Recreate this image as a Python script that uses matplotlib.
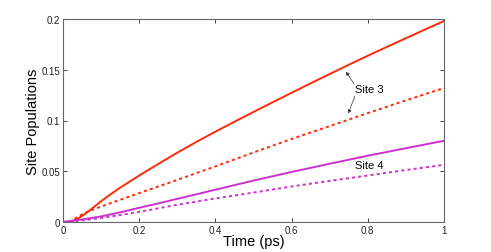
import matplotlib
matplotlib.use("Agg")
import matplotlib.pyplot as plt

plt.rcParams['font.family'] = ['Liberation Sans', 'DejaVu Sans']

# Site 3 (solid)
t_s3 = [0, 0.02, 0.04, 0.06, 0.08, 0.1, 0.125, 0.15, 0.2, 0.25, 0.3, 0.35, 0.4,
        0.45, 0.5, 0.55, 0.6, 0.65, 0.7, 0.75, 0.8, 0.85, 0.9, 0.95, 1.0]
site3_solid = [0, 0.0005, 0.0035, 0.0085, 0.0145, 0.0205, 0.0273, 0.0338, 0.0458,
               0.0572, 0.0683, 0.0789, 0.089, 0.0988, 0.1084, 0.1179, 0.1273,
               0.1366, 0.1458, 0.1549, 0.1638, 0.1725, 0.1811, 0.1896, 0.198]
# Site 3 (dotted)
t_s3d = [0, 0.02, 0.04, 0.06, 0.1, 0.2, 0.3, 0.4, 0.5, 0.6, 0.7, 0.8, 0.9, 1.0]
site3_dotted = [0, 0.0005, 0.0055, 0.0095, 0.0152, 0.0285, 0.0415, 0.0548, 0.0685,
                0.0818, 0.0945, 0.1073, 0.1198, 0.132]
# Site 4 (solid, dotted)
t_s4 = [0, 0.05, 0.1, 0.15, 0.2, 0.25, 0.3, 0.4, 0.5, 0.6, 0.7, 0.8, 0.9, 1.0]
site4_solid = [0, 0.0025, 0.0055, 0.0095, 0.014, 0.0183, 0.0228, 0.0318, 0.0408,
               0.0493, 0.0574, 0.0653, 0.0727, 0.080]
site4_dotted = [0, 0.0015, 0.004, 0.0068, 0.010, 0.0135, 0.017, 0.0232, 0.029,
                0.035, 0.0405, 0.0458, 0.0512, 0.0563]

xticks = [0, 0.2, 0.4, 0.6, 0.8, 1]
xticklabels = ['0', '0.2', '0.4', '0.6', '0.8', '1']
yticks = [0, 0.05, 0.1, 0.15, 0.2]
yticklabels = ['0', '0.05', '0.1', '0.15', '0.2']

red = '#ff2a0a'
mag = '#cc33cc'

fig = plt.figure(figsize=(4.91, 2.53), dpi=100)
ax = fig.add_axes([63/491, 1-223/253, (444-63)/491, (223-20)/253])

ax.plot(t_s3, site3_solid, color=red, lw=1.4)
ax.plot(t_s3d, site3_dotted, color=red, lw=1.4, ls=(0, (1.6, 1.6)))
ax.plot(t_s4, site4_solid, color=mag, lw=1.4)
ax.plot(t_s4, site4_dotted, color=mag, lw=1.4, ls=(0, (1.6, 1.6)))

ax.set_xlim(0, 1)
ax.set_ylim(0, 0.2)
ax.set_xticks(xticks)
ax.set_xticklabels(xticklabels)
ax.set_yticks(yticks)
ax.set_yticklabels(yticklabels)
ax.tick_params(direction='in', length=3, width=0.6, labelsize=7, colors='#222222',
               top=True, right=True, pad=2)
for s in ax.spines.values():
    s.set_color('#666666')
    s.set_linewidth(0.8)

ax.set_xlabel('Time (ps)', fontsize=10.5, labelpad=-0.5)
ax.set_ylabel('Site Populations', fontsize=10.5, labelpad=1)

ax.text(0.804, 0.1306, 'Site 3', fontsize=8, ha='center', va='center')
ax.text(0.803, 0.0557, 'Site 4', fontsize=8, ha='center', va='center')
ap = dict(arrowstyle='-|>', color='#333333', lw=0.5, mutation_scale=5, shrinkA=0, shrinkB=0)
ax.annotate('', xy=(0.743, 0.148), xytext=(0.764, 0.136), arrowprops=ap)
ax.annotate('', xy=(0.749, 0.107), xytext=(0.766, 0.124), arrowprops=ap)

fig.savefig('out.png', dpi=100)
